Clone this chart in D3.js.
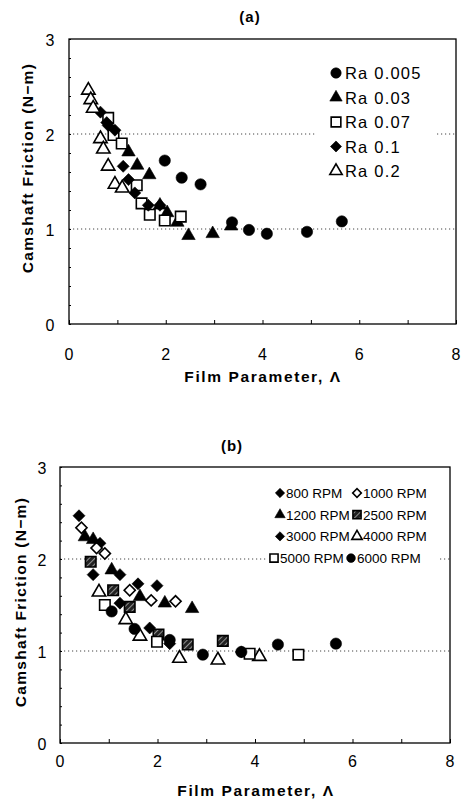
<!DOCTYPE html>
<html>
<head>
<meta charset="utf-8">
<script src="https://cdn.jsdelivr.net/npm/d3@7/dist/d3.min.js"></script>
<style>
  html, body { margin: 0; padding: 0; background: #fff; }
  svg { display: block; font-family: "Liberation Sans", Arial, sans-serif; }
</style>
</head>
<body>
<svg id="chart" width="461" height="808"></svg>
<script>
// ---- panel (a): friction vs film parameter, grouped by roughness
const ra005 = [[1.98, 1.72], [2.33, 1.54], [2.72, 1.47], [3.37, 1.07], [3.72, 0.99], [4.09, 0.95], [4.92, 0.97], [5.64, 1.08]];
const ra03 = [[1.23, 1.81], [1.41, 1.67], [1.66, 1.57], [1.88, 1.25], [2.03, 1.17], [2.24, 1.07], [2.47, 0.93], [2.97, 0.95], [3.35, 1.03]];
const ra07 = [[0.81, 2.17], [0.92, 1.99], [1.09, 1.90], [1.40, 1.46], [1.50, 1.27], [1.67, 1.15], [1.98, 1.09], [2.31, 1.13]];
const ra1 = [[0.65, 2.23], [0.78, 2.12], [0.81, 2.09], [0.95, 2.04], [1.12, 1.66], [1.23, 1.52], [1.36, 1.38], [1.64, 1.25], [1.88, 1.25]];
const ra2 = [[0.40, 2.46], [0.45, 2.36], [0.50, 2.27], [0.65, 1.95], [0.71, 1.84], [0.81, 1.66], [0.95, 1.47], [1.10, 1.43]];

// ---- panel (b): friction vs film parameter, grouped by speed
const rpm800 = [[0.39, 2.47], [0.82, 2.17], [1.23, 1.83], [1.60, 1.73], [1.99, 1.71]];
const rpm1000 = [[0.44, 2.34], [0.75, 2.12], [0.92, 2.06], [1.43, 1.66], [1.87, 1.55], [2.37, 1.54]];
const rpm1200 = [[0.51, 2.24], [0.68, 2.21], [1.06, 1.88], [1.64, 1.59], [2.15, 1.52], [2.71, 1.46]];
const rpm2500 = [[0.63, 1.97], [1.09, 1.66], [1.43, 1.48], [2.02, 1.18], [2.62, 1.07], [3.34, 1.11]];
const rpm3000 = [[0.68, 1.83], [1.23, 1.52], [1.84, 1.25], [2.25, 1.08], [3.72, 0.99]];
const rpm4000 = [[0.80, 1.64], [1.35, 1.34], [1.64, 1.16], [2.45, 0.92], [3.24, 0.90], [4.09, 0.94]];
const rpm5000 = [[0.92, 1.50], [1.99, 1.10], [3.89, 0.97], [4.89, 0.96]];
const rpm6000 = [[1.06, 1.43], [1.53, 1.24], [2.25, 1.12], [2.93, 0.96], [3.72, 0.99], [4.47, 1.07], [5.66, 1.08]];

const xTicks = [0, 2, 4, 6, 8];
const yTicks = [0, 1, 2, 3];
const gridValues = [1, 2];

const labelsA = ["Ra 0.005", "Ra 0.03", "Ra 0.07", "Ra 0.1", "Ra 0.2"];
const labelsB = ["800 RPM", "1000 RPM", "1200 RPM", "2500 RPM", "3000 RPM", "4000 RPM", "5000 RPM", "6000 RPM"];

const svg = d3.select("#chart");

// hatch pattern for 2500 RPM squares
const defs = svg.append("defs");
const pat = defs.append("pattern")
  .attr("id", "hatch")
  .attr("patternUnits", "userSpaceOnUse")
  .attr("width", 4).attr("height", 4)
  .attr("patternTransform", "rotate(45)");
pat.append("rect").attr("width", 4).attr("height", 4).attr("fill", "#222");
pat.append("line").attr("x1", 0).attr("y1", 0).attr("x2", 0).attr("y2", 4)
  .attr("stroke", "#ddd").attr("stroke-width", 1.2);

// marker styles
const styles = {
  dot:      { type: d3.symbolCircle,   fill: "#000",         size: 100 },
  tri:      { type: d3.symbolTriangle, fill: "#000",         size: 78 },
  triOpen:  { type: d3.symbolTriangle, fill: "#fff",         size: 78 },
  sq:       { type: d3.symbolSquare,   fill: "#fff",         size: 110 },
  sqHatch:  { type: d3.symbolSquare,   fill: "url(#hatch)",  size: 110 },
  dia:      { type: d3.symbolSquare,   fill: "#000",         size: 72, rot: 45 },
  diaOpen:  { type: d3.symbolSquare,   fill: "#fff",         size: 62, rot: 45 }
};

function drawMarker(g, st, x, y, scale) {
  const k = scale || 1;
  g.append("path")
    .attr("d", d3.symbol().type(st.type).size(st.size * k)())
    .attr("transform", `translate(${x},${y})` + (st.rot ? ` rotate(${st.rot})` : ""))
    .attr("fill", st.fill)
    .attr("stroke", "#000")
    .attr("stroke-width", st.fill === "#000" ? 0.6 : 1.6);
}

function panel(cfg) {
  const x = d3.scaleLinear().domain([0, 8]).range([cfg.left, cfg.right]);
  const y = d3.scaleLinear().domain([0, 3]).range([cfg.bottom, cfg.top]);
  const g = svg.append("g");

  // title
  g.append("text")
    .attr("x", cfg.titleX).attr("y", cfg.titleY)
    .attr("text-anchor", "middle")
    .attr("font-size", 15).attr("font-weight", "bold")
    .attr("letter-spacing", 1)
    .text(cfg.title);

  // dotted gridlines
  g.selectAll(".grid")
    .data(gridValues)
    .enter().append("line")
    .attr("x1", cfg.left).attr("x2", cfg.right)
    .attr("y1", d => y(d)).attr("y2", d => y(d))
    .attr("stroke", "#444")
    .attr("stroke-width", 1)
    .attr("stroke-dasharray", "1.2,2.8");

  // axes with small inward ticks
  g.append("g")
    .attr("transform", `translate(0,${cfg.bottom})`)
    .call(d3.axisTop(x).ticks(8).tickSize(4).tickFormat(""))
    .call(a => a.select(".domain").remove())
    .selectAll("line").attr("stroke", "#000");

  g.append("g")
    .attr("transform", `translate(${cfg.left},0)`)
    .call(d3.axisRight(y).ticks(15).tickSize(2).tickFormat(""))
    .call(a => a.select(".domain").remove())
    .selectAll("line").attr("stroke", "#000");

  // frame
  g.append("rect")
    .attr("x", cfg.left).attr("y", cfg.top)
    .attr("width", cfg.right - cfg.left).attr("height", cfg.bottom - cfg.top)
    .attr("fill", "none").attr("stroke", "#000").attr("stroke-width", 1.3);

  // tick labels
  g.selectAll(".xl")
    .data(xTicks)
    .enter().append("text")
    .attr("x", d => x(d)).attr("y", cfg.xTickY)
    .attr("text-anchor", "middle")
    .attr("font-size", 16)
    .text(d => d);

  g.selectAll(".yl")
    .data(yTicks)
    .enter().append("text")
    .attr("x", cfg.yTickX).attr("y", d => y(d) + 7)
    .attr("text-anchor", "middle")
    .attr("font-size", 16)
    .text(d => d);

  // axis titles
  g.append("text")
    .attr("x", cfg.xTitleX).attr("y", cfg.xTitleY)
    .attr("text-anchor", "middle")
    .attr("font-size", 15.5).attr("font-weight", "bold")
    .attr("letter-spacing", 1.6)
    .text("Film Parameter, Λ");

  g.append("text")
    .attr("transform", `translate(${cfg.yTitleX},${cfg.yTitleY}) rotate(-90)`)
    .attr("text-anchor", "middle")
    .attr("font-size", 15.5).attr("font-weight", "bold")
    .attr("letter-spacing", 1.3)
    .text("Camshaft Friction (N\u2212m)");

  // legend background hides the gridline
  g.append("rect")
    .attr("x", cfg.legendBox[0]).attr("y", cfg.legendBox[1])
    .attr("width", cfg.legendBox[2]).attr("height", cfg.legendBox[3])
    .attr("fill", "#fff");

  // points
  cfg.series.forEach(s => {
    s.data.forEach(d => drawMarker(g, s.style, x(d[0]), y(d[1])));
  });

  return g;
}

const gA = panel({
  title: "(a)", titleX: 250, titleY: 22,
  left: 69, right: 456, top: 39, bottom: 324,
  xTickY: 360, yTickX: 50,
  xTitleX: 263, xTitleY: 382,
  yTitleX: 33, yTitleY: 168,
  legendBox: [316, 58, 120, 125],
  series: [
    { data: ra005, style: styles.dot },
    { data: ra03, style: styles.tri },
    { data: ra07, style: styles.sq },
    { data: ra1, style: styles.dia },
    { data: ra2, style: styles.triOpen }
  ]
});

// legend (a)
const legA = [styles.dot, styles.tri, styles.sq, styles.dia, styles.triOpen];
labelsA.forEach((lab, i) => {
  const yy = 73 + i * 24.5;
  drawMarker(gA, legA[i], 336, yy, 0.85);
  gA.append("text")
    .attr("x", 345).attr("y", yy + 6)
    .attr("font-size", 16.5).attr("letter-spacing", 1.2)
    .text(lab);
});

const gB = panel({
  title: "(b)", titleX: 232, titleY: 451,
  left: 60, right: 450, top: 467, bottom: 743,
  xTickY: 767, yTickX: 42,
  xTitleX: 256, xTitleY: 796,
  yTitleX: 26, yTitleY: 602,
  legendBox: [266, 480, 172, 88],
  series: [
    { data: rpm800, style: styles.dia },
    { data: rpm1000, style: styles.diaOpen },
    { data: rpm1200, style: styles.tri },
    { data: rpm2500, style: styles.sqHatch },
    { data: rpm3000, style: styles.dia },
    { data: rpm4000, style: styles.triOpen },
    { data: rpm5000, style: styles.sq },
    { data: rpm6000, style: styles.dot }
  ]
});

// legend (b), two columns
const legB = [styles.dia, styles.diaOpen, styles.tri, styles.sqHatch, styles.dia, styles.triOpen, styles.sq, styles.dot];
labelsB.forEach((lab, i) => {
  const row = Math.floor(i / 2), col = i % 2;
  const shift = row === 3 ? -6 : 0;
  const mx = (col === 0 ? 280 : 357) + shift;
  const yy = 493 + row * 21.7;
  drawMarker(gB, legB[i], mx, yy, 0.6);
  gB.append("text")
    .attr("x", mx + 6).attr("y", yy + 5)
    .attr("font-size", 13.5)
    .text(lab);
});
</script>
</body>
</html>
